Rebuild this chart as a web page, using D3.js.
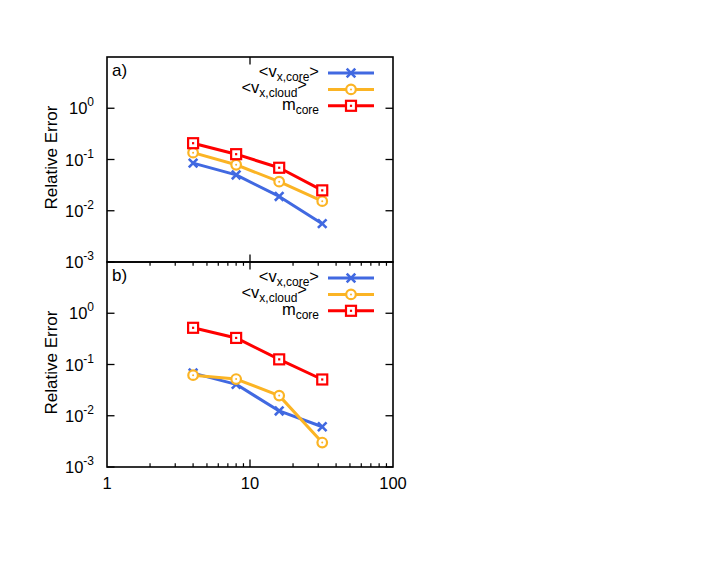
<!DOCTYPE html>
<html>
<head>
<meta charset="utf-8">
<script src="https://cdn.jsdelivr.net/npm/d3@7"></script>
<style>
  html, body { margin: 0; padding: 0; background: #fff; }
  svg { display: block; font-family: "Liberation Sans", Arial, Helvetica, sans-serif; }
</style>
</head>
<body>
<svg id="chart" width="714" height="585"></svg>
<script>
// ---------- data ----------
const resolution = [4, 8, 16, 32];
const xTicks = [1, 10, 100];
const yTickExps = [0, -1, -2, -3];
const panelLabels = ["a)", "b)"];
const seriesSubs = ["x,core", "x,cloud", "core"];
const seriesColors = ["#4169e1", "#fbb424", "#ff0000"];
const seriesMarkers = ["cross", "circle", "square"];

const aVxCore  = [0.085, 0.050, 0.019, 0.0056];
const aVxCloud = [0.136, 0.079, 0.037, 0.0154];
const aMCore   = [0.208, 0.127, 0.069, 0.025];

const bVxCore  = [0.068, 0.041, 0.0124, 0.0061];
const bVxCloud = [0.062, 0.052, 0.0247, 0.0030];
const bMCore   = [0.52, 0.33, 0.126, 0.051];

const panels = [
  { label: panelLabels[0], series: [aVxCore, aVxCloud, aMCore] },
  { label: panelLabels[1], series: [bVxCore, bVxCloud, bMCore] }
];

// ---------- layout ----------
const svg = d3.select("#chart");
const left = 107, right = 393;
const panelTops = [57, 262];
const panelH = 205;

const x = d3.scaleLog().domain([1, 100]).range([left, right]);
const minorX = [];
for (let d = 1; d < 100; d *= 10) for (let k = 2; k <= 9; k++) minorX.push(d * k);

function drawMarker(g, type, cx, cy, color) {
  if (type === "cross") {
    const s = 4.3;
    g.append("path")
      .attr("d", `M${cx - s},${cy - s}L${cx + s},${cy + s}M${cx - s},${cy + s}L${cx + s},${cy - s}`)
      .attr("stroke", color).attr("stroke-width", 2.6).attr("fill", "none");
  } else if (type === "circle") {
    g.append("circle").attr("cx", cx).attr("cy", cy).attr("r", 4.8)
      .attr("fill", "#fff").attr("stroke", color).attr("stroke-width", 2.2);
    g.append("circle").attr("cx", cx).attr("cy", cy).attr("r", 1).attr("fill", color);
  } else {
    g.append("rect").attr("x", cx - 5).attr("y", cy - 5).attr("width", 10).attr("height", 10)
      .attr("fill", "#fff").attr("stroke", color).attr("stroke-width", 2.2);
    g.append("rect").attr("x", cx - 1.1).attr("y", cy - 1.1).attr("width", 2.2).attr("height", 2.2).attr("fill", color);
  }
}

function legendText(g, si, xr, y) {
  const text = g.append("text").attr("x", xr).attr("y", y)
    .attr("text-anchor", "end").attr("font-size", 16.5).attr("fill", "#000");
  if (si === 2) {
    text.append("tspan").text("m");
    text.append("tspan").attr("dy", 4).attr("font-size", 12).text(seriesSubs[si]);
  } else {
    text.append("tspan").text("<v");
    text.append("tspan").attr("dy", 4).attr("font-size", 12).text(seriesSubs[si]);
    text.append("tspan").attr("dy", si === 1 ? -7 : -4).text(">");
  }
  if (si === 1) text.attr("x", xr - 12);
}

panels.forEach((p, pi) => {
  const top = panelTops[pi];
  const bottom = top + panelH;
  const y = d3.scaleLog().domain([1e-3, 10]).range([bottom, top]);
  const g = svg.append("g");

  // data lines and markers
  const line = d3.line().x((d, i) => x(resolution[i])).y(d => y(d));
  p.series.forEach((vals, si) => {
    g.append("path").datum(vals).attr("d", line)
      .attr("fill", "none").attr("stroke", seriesColors[si]).attr("stroke-width", 3)
      .attr("stroke-linejoin", "round");
    vals.forEach((v, i) => drawMarker(g, seriesMarkers[si], x(resolution[i]), y(v), seriesColors[si]));
  });

  // frame
  g.append("rect").attr("x", left).attr("y", top).attr("width", right - left).attr("height", panelH)
    .attr("fill", "none").attr("stroke", "#000").attr("stroke-width", 1.6);

  // y ticks (left + right mirror) and labels
  yTickExps.forEach(e => {
    const yy = y(Math.pow(10, e));
    g.append("line").attr("x1", left).attr("x2", left + 7.5).attr("y1", yy).attr("y2", yy)
      .attr("stroke", "#000").attr("stroke-width", 1.3);
    g.append("line").attr("x1", right).attr("x2", right - 7.5).attr("y1", yy).attr("y2", yy)
      .attr("stroke", "#000").attr("stroke-width", 1.3);
    const t = g.append("text").attr("x", 94).attr("y", yy + 6)
      .attr("text-anchor", "end").attr("font-size", 16.5).attr("fill", "#000");
    t.append("tspan").text("10");
    t.append("tspan").attr("dy", -8).attr("font-size", 12).text(String(e));
  });

  // x ticks
  const major = 10;
  if (pi === 0) {
    g.append("line").attr("x1", x(major)).attr("x2", x(major)).attr("y1", top).attr("y2", top + 7.5)
      .attr("stroke", "#000").attr("stroke-width", 1.3);
    g.append("line").attr("x1", x(major)).attr("x2", x(major)).attr("y1", bottom).attr("y2", bottom - 7.5)
      .attr("stroke", "#000").attr("stroke-width", 1.3);
  } else {
    [top, bottom].forEach((yb, k) => {
      const dir = k === 0 ? 1 : -1;
      g.append("line").attr("x1", x(major)).attr("x2", x(major)).attr("y1", yb).attr("y2", yb + dir * 7.5)
        .attr("stroke", "#000").attr("stroke-width", 1.3);
      minorX.forEach(m => {
        g.append("line").attr("x1", x(m)).attr("x2", x(m)).attr("y1", yb).attr("y2", yb + dir * 3.8)
          .attr("stroke", "#000").attr("stroke-width", 1.2);
      });
    });
    xTicks.forEach(v => {
      g.append("text").attr("x", x(v)).attr("y", bottom + 22)
        .attr("text-anchor", "middle").attr("font-size", 16.5).attr("fill", "#000").text(v);
    });
  }

  // y axis title
  const cy = (top + bottom) / 2 - 2;
  g.append("text").attr("transform", `translate(57,${cy}) rotate(-90)`)
    .attr("text-anchor", "middle").attr("font-size", 17).attr("fill", "#000").text("Relative Error");

  // panel label
  g.append("text").attr("x", 112).attr("y", top + 19).attr("font-size", 17).attr("fill", "#000").text(p.label);

  // legend
  seriesSubs.forEach((name, si) => {
    const ly = top + 16 + si * 16.4;
    g.append("line").attr("x1", 328).attr("x2", 374).attr("y1", ly).attr("y2", ly)
      .attr("stroke", seriesColors[si]).attr("stroke-width", 3);
    drawMarker(g, seriesMarkers[si], 351, ly, seriesColors[si]);
    legendText(g, si, 319, ly + 4);
  });
});
</script>
</body>
</html>
